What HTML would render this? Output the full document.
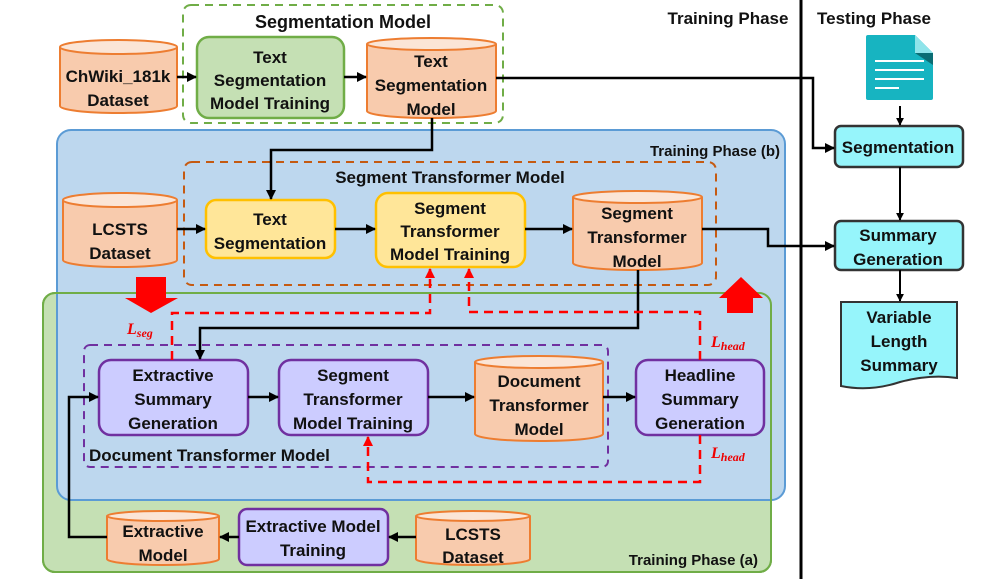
<!DOCTYPE html>
<html><head><meta charset="utf-8"><style>
html,body{margin:0;padding:0;background:#fff;}
svg{display:block;}
text{font-family:"Liberation Sans",sans-serif;font-weight:bold;fill:#111;text-anchor:middle;}
</style></head><body>
<svg width="987" height="579" viewBox="0 0 987 579" xmlns="http://www.w3.org/2000/svg">
<defs>
<marker id="a" viewBox="0 0 10 10" refX="9" refY="5" markerWidth="4" markerHeight="4" orient="auto"><path d="M0,0L10,5L0,10z" fill="#000"/></marker>
<marker id="r" viewBox="0 0 10 10" refX="9" refY="5" markerWidth="4" markerHeight="4" orient="auto"><path d="M0,0L10,5L0,10z" fill="#f00"/></marker>
</defs>

<rect x="43" y="293" width="728" height="279" rx="12" fill="#c5e0b4" stroke="#70ad47" stroke-width="2"/>
<rect x="57" y="130" width="728" height="370" rx="14" fill="#bdd7ee" stroke="#5b9bd5" stroke-width="2"/>
<rect x="43" y="293" width="728" height="279" rx="12" fill="none" stroke="#70ad47" stroke-width="2"/>
<text x="780" y="156" font-size="15" style="text-anchor:end">Training Phase (b)</text>
<text x="758" y="565" font-size="15" style="text-anchor:end">Training Phase (a)</text>

<line x1="801" y1="0" x2="801" y2="579" stroke="#000" stroke-width="3"/>
<text x="728" y="24" font-size="17">Training Phase</text>
<text x="874" y="24" font-size="17">Testing Phase</text>

<rect x="183" y="5" width="320" height="118" rx="8" fill="none" stroke="#70ad47" stroke-width="2" stroke-dasharray="8,6"/>
<text x="343" y="28" font-size="18">Segmentation Model</text>

<path d="M60,47 V106 A58.5,7 0 0 0 177,106 V47" fill="#f8cbad" stroke="#ed7d31" stroke-width="2"/>
<ellipse cx="118.5" cy="47" rx="58.5" ry="7" fill="#fbe5d6" stroke="#ed7d31" stroke-width="2"/>
<text x="118" y="82" font-size="17">ChWiki_181k</text>
<text x="118" y="106" font-size="17">Dataset</text>

<rect x="197" y="37" width="147" height="81" rx="12" fill="#c5e0b4" stroke="#70ad47" stroke-width="2.5"/>
<text x="270" y="63" font-size="17">Text</text>
<text x="270" y="86" font-size="17">Segmentation</text>
<text x="270" y="109" font-size="17">Model Training</text>

<path d="M367,44 V111 A64.5,7 0 0 0 496,111 V44" fill="#f8cbad" stroke="#ed7d31" stroke-width="2"/>
<ellipse cx="431.5" cy="44" rx="64.5" ry="6" fill="#fbe5d6" stroke="#ed7d31" stroke-width="2"/>
<text x="431" y="67" font-size="17">Text</text>
<text x="431" y="91" font-size="17">Segmentation</text>
<text x="431" y="115" font-size="17">Model</text>

<line x1="177" y1="77" x2="196" y2="77" stroke="#000" stroke-width="2.5" marker-end="url(#a)"/>
<line x1="344" y1="77" x2="366" y2="77" stroke="#000" stroke-width="2.5" marker-end="url(#a)"/>

<rect x="184" y="162" width="532" height="123" rx="8" fill="none" stroke="#c55a11" stroke-width="2" stroke-dasharray="8,6"/>
<text x="450" y="183" font-size="17">Segment Transformer Model</text>

<path d="M63,200 V260 A57,7 0 0 0 177,260 V200" fill="#f8cbad" stroke="#ed7d31" stroke-width="2"/>
<ellipse cx="120" cy="200" rx="57" ry="7" fill="#fbe5d6" stroke="#ed7d31" stroke-width="2"/>
<text x="120" y="235" font-size="17">LCSTS</text>
<text x="120" y="259" font-size="17">Dataset</text>

<rect x="206" y="200" width="129" height="58" rx="10" fill="#ffe699" stroke="#ffc000" stroke-width="2.5"/>
<text x="270" y="225" font-size="17">Text</text>
<text x="270" y="249" font-size="17">Segmentation</text>

<rect x="376" y="193" width="149" height="74" rx="12" fill="#ffe699" stroke="#ffc000" stroke-width="2.5"/>
<text x="450" y="214" font-size="17">Segment</text>
<text x="450" y="237" font-size="17">Transformer</text>
<text x="450" y="260" font-size="17">Model Training</text>

<path d="M573,197 V263 A64.5,7 0 0 0 702,263 V197" fill="#f8cbad" stroke="#ed7d31" stroke-width="2"/>
<ellipse cx="637.5" cy="197" rx="64.5" ry="6" fill="#fbe5d6" stroke="#ed7d31" stroke-width="2"/>
<text x="637" y="219" font-size="17">Segment</text>
<text x="637" y="243" font-size="17">Transformer</text>
<text x="637" y="267" font-size="17">Model</text>

<line x1="177" y1="229" x2="205" y2="229" stroke="#000" stroke-width="2.5" marker-end="url(#a)"/>
<line x1="335" y1="229" x2="375" y2="229" stroke="#000" stroke-width="2.5" marker-end="url(#a)"/>
<line x1="525" y1="229" x2="572" y2="229" stroke="#000" stroke-width="2.5" marker-end="url(#a)"/>
<polyline points="432,118 432,150 271,150 271,199" fill="none" stroke="#000" stroke-width="2.5" marker-end="url(#a)"/>

<path d="M136,277 H166 V298 H178 L151,313 L125,298 H136 Z" fill="#f00"/>
<path d="M727,313 V298 H719 L741,277 L763,298 H753 V313 Z" fill="#f00"/>

<rect x="84" y="345" width="524" height="122" rx="6" fill="none" stroke="#7030a0" stroke-width="2" stroke-dasharray="8,6"/>
<text x="89" y="461" font-size="17" style="text-anchor:start">Document Transformer Model</text>

<rect x="99" y="360" width="149" height="75" rx="12" fill="#ccccff" stroke="#7030a0" stroke-width="2.5"/>
<text x="173" y="381" font-size="17">Extractive</text>
<text x="173" y="405" font-size="17">Summary</text>
<text x="173" y="429" font-size="17">Generation</text>

<rect x="279" y="360" width="149" height="75" rx="12" fill="#ccccff" stroke="#7030a0" stroke-width="2.5"/>
<text x="353" y="381" font-size="17">Segment</text>
<text x="353" y="405" font-size="17">Transformer</text>
<text x="353" y="429" font-size="17">Model Training</text>

<path d="M475,362 V434 A64,7 0 0 0 603,434 V362" fill="#f8cbad" stroke="#ed7d31" stroke-width="2"/>
<ellipse cx="539" cy="362" rx="64" ry="6" fill="#fbe5d6" stroke="#ed7d31" stroke-width="2"/>
<text x="539" y="387" font-size="17">Document</text>
<text x="539" y="411" font-size="17">Transformer</text>
<text x="539" y="435" font-size="17">Model</text>

<rect x="636" y="360" width="128" height="75" rx="12" fill="#ccccff" stroke="#7030a0" stroke-width="2.5"/>
<text x="700" y="381" font-size="17">Headline</text>
<text x="700" y="405" font-size="17">Summary</text>
<text x="700" y="429" font-size="17">Generation</text>

<line x1="248" y1="397" x2="278" y2="397" stroke="#000" stroke-width="2.5" marker-end="url(#a)"/>
<line x1="428" y1="397" x2="474" y2="397" stroke="#000" stroke-width="2.5" marker-end="url(#a)"/>
<line x1="603" y1="397" x2="635" y2="397" stroke="#000" stroke-width="2.5" marker-end="url(#a)"/>
<polyline points="638,270 638,328 200,328 200,359" fill="none" stroke="#000" stroke-width="2.5" marker-end="url(#a)"/>

<polyline points="172,360 172,313 430,313 430,269" fill="none" stroke="#f00" stroke-width="2.5" stroke-dasharray="9,6" marker-end="url(#r)"/>
<polyline points="700,360 700,312 469,312 469,269" fill="none" stroke="#f00" stroke-width="2.5" stroke-dasharray="9,6" marker-end="url(#r)"/>
<polyline points="700,435 700,482 368,482 368,437" fill="none" stroke="#f00" stroke-width="2.5" stroke-dasharray="9,6" marker-end="url(#r)"/>
<text x="127" y="334" font-size="16" style="fill:#e00;font-family:'Liberation Serif',serif;font-style:italic;text-anchor:start">L<tspan font-size="12" dy="3">seg</tspan></text>
<text x="711" y="347" font-size="16" style="fill:#e00;font-family:'Liberation Serif',serif;font-style:italic;text-anchor:start">L<tspan font-size="12" dy="3">head</tspan></text>
<text x="711" y="458" font-size="16" style="fill:#e00;font-family:'Liberation Serif',serif;font-style:italic;text-anchor:start">L<tspan font-size="12" dy="3">head</tspan></text>

<path d="M107,516 V559 A56,6 0 0 0 219,559 V516" fill="#f8cbad" stroke="#ed7d31" stroke-width="2"/>
<ellipse cx="163" cy="516" rx="56" ry="5" fill="#fbe5d6" stroke="#ed7d31" stroke-width="2"/>
<text x="163" y="537" font-size="17">Extractive</text>
<text x="163" y="561" font-size="17">Model</text>

<rect x="239" y="509" width="149" height="56" rx="8" fill="#ccccff" stroke="#7030a0" stroke-width="2.5"/>
<text x="313" y="532" font-size="17">Extractive Model</text>
<text x="313" y="556" font-size="17">Training</text>

<path d="M416,516 V559 A57,6 0 0 0 530,559 V516" fill="#f8cbad" stroke="#ed7d31" stroke-width="2"/>
<ellipse cx="473" cy="516" rx="57" ry="5" fill="#fbe5d6" stroke="#ed7d31" stroke-width="2"/>
<text x="473" y="540" font-size="17">LCSTS</text>
<text x="473" y="563" font-size="17">Dataset</text>

<line x1="416" y1="537" x2="389" y2="537" stroke="#000" stroke-width="2.5" marker-end="url(#a)"/>
<line x1="239" y1="537" x2="220" y2="537" stroke="#000" stroke-width="2.5" marker-end="url(#a)"/>
<polyline points="107,537 69,537 69,397 98,397" fill="none" stroke="#000" stroke-width="2.5" marker-end="url(#a)"/>

<path d="M866,37 Q866,35 868,35 H915 L933,53 V98 Q933,100 931,100 H868 Q866,100 866,98 Z" fill="#17b4c1"/>
<path d="M915,35 L933,53 H915 Z" fill="#8fe4ea"/>
<path d="M915,53 H933 V65 Z" fill="#0b6d74"/>
<line x1="875" y1="61" x2="924" y2="61" stroke="#fff" stroke-width="2"/>
<line x1="875" y1="70" x2="924" y2="70" stroke="#fff" stroke-width="2"/>
<line x1="875" y1="79" x2="924" y2="79" stroke="#fff" stroke-width="2"/>
<line x1="875" y1="88" x2="899" y2="88" stroke="#fff" stroke-width="2"/>

<rect x="835" y="126" width="128" height="41" rx="6" fill="#96f5fb" stroke="#333" stroke-width="2.5"/>
<text x="898" y="153" font-size="17">Segmentation</text>
<rect x="835" y="221" width="128" height="49" rx="6" fill="#96f5fb" stroke="#333" stroke-width="2.5"/>
<text x="898" y="241" font-size="17">Summary</text>
<text x="898" y="265" font-size="17">Generation</text>
<path d="M841,302 H957 V378 Q930,374 900,382 Q870,392 841,386 Z" fill="#96f5fb" stroke="#333" stroke-width="2"/>
<text x="899" y="323" font-size="17">Variable</text>
<text x="899" y="347" font-size="17">Length</text>
<text x="899" y="371" font-size="17">Summary</text>

<line x1="900" y1="106" x2="900" y2="125" stroke="#000" stroke-width="2" marker-end="url(#a)"/>
<line x1="900" y1="167" x2="900" y2="220" stroke="#000" stroke-width="2" marker-end="url(#a)"/>
<line x1="900" y1="270" x2="900" y2="301" stroke="#000" stroke-width="2" marker-end="url(#a)"/>
<polyline points="496,78 813,78 813,148 834,148" fill="none" stroke="#000" stroke-width="2.5" marker-end="url(#a)"/>
<polyline points="702,229 768,229 768,246 834,246" fill="none" stroke="#000" stroke-width="2.5" marker-end="url(#a)"/>
</svg>
</body></html>
